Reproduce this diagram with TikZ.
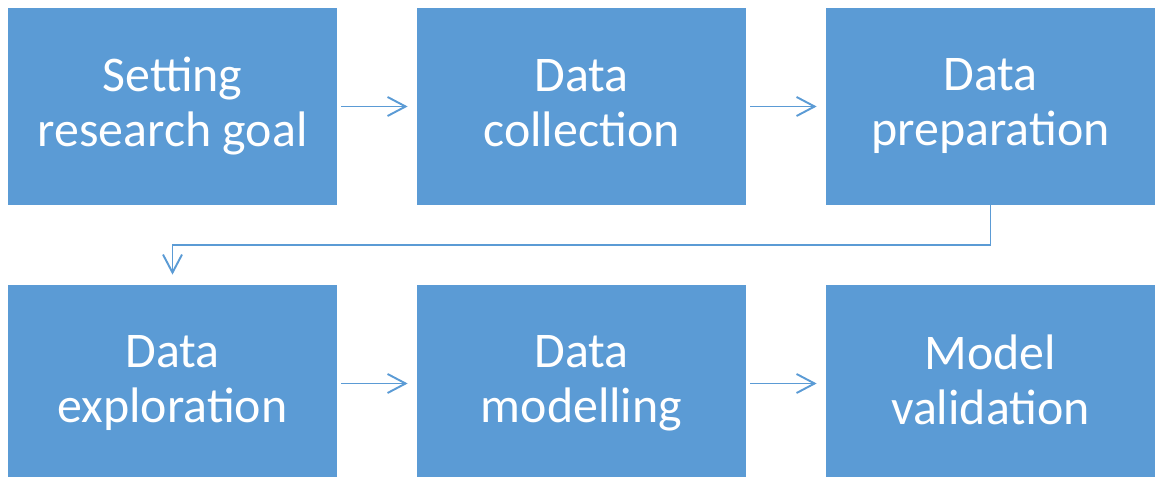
\documentclass[tikz,border=0pt]{standalone}
\usepackage{fontspec}
\setmainfont{Carlito}
\usetikzlibrary{arrows.meta}
\definecolor{stageblue}{HTML}{5B9BD5}

\begin{document}
\begin{tikzpicture}
\tikzset{stage/.style={fill=stageblue, text=white, minimum width=6.58cm, minimum height=3.94cm, align=center, inner sep=0pt, font=\fontsize{28.4}{31.3}\selectfont, execute at begin node=\rule{0pt}{27.4pt}, execute at end node=\rule[-3.9pt]{0pt}{3.9pt}},
	flow/.style={draw=stageblue, line width=1.1pt, -{Straight Barb[length=0.36cm, width=0.38cm]}, shorten >=0.18cm, shorten <=0.08cm}}
\useasboundingbox (0,0) rectangle (23.1,-9.54);
\begin{scope}
	\node[stage] (goal) at (3.45,-2.13) {Setting\\research goal};
	\node[stage] (collect) at (11.63,-2.13) {Data\\collection};
	\node[stage] (prep) at (19.81,-2.13) {Data\\preparation};
	\node[stage] (explore) at (3.45,-7.67) {Data\\exploration};
	\node[stage] (model) at (11.63,-7.67) {Data\\modelling};
	\node[stage] (valid) at (19.81,-7.67) {Model\\validation};
	\coordinate (bend) at (0,-4.9);
	
	\draw[flow] (goal) -- (collect);
	\draw[flow] (collect) -- (prep);
	\draw[flow, shorten <=0pt, shorten >=0.2cm] (prep.south) -- (prep.south |- bend) -| (explore.north);
	\draw[flow] (explore) -- (model);
	\draw[flow] (model) -- (valid);
\end{scope}
\end{tikzpicture}
\end{document}
